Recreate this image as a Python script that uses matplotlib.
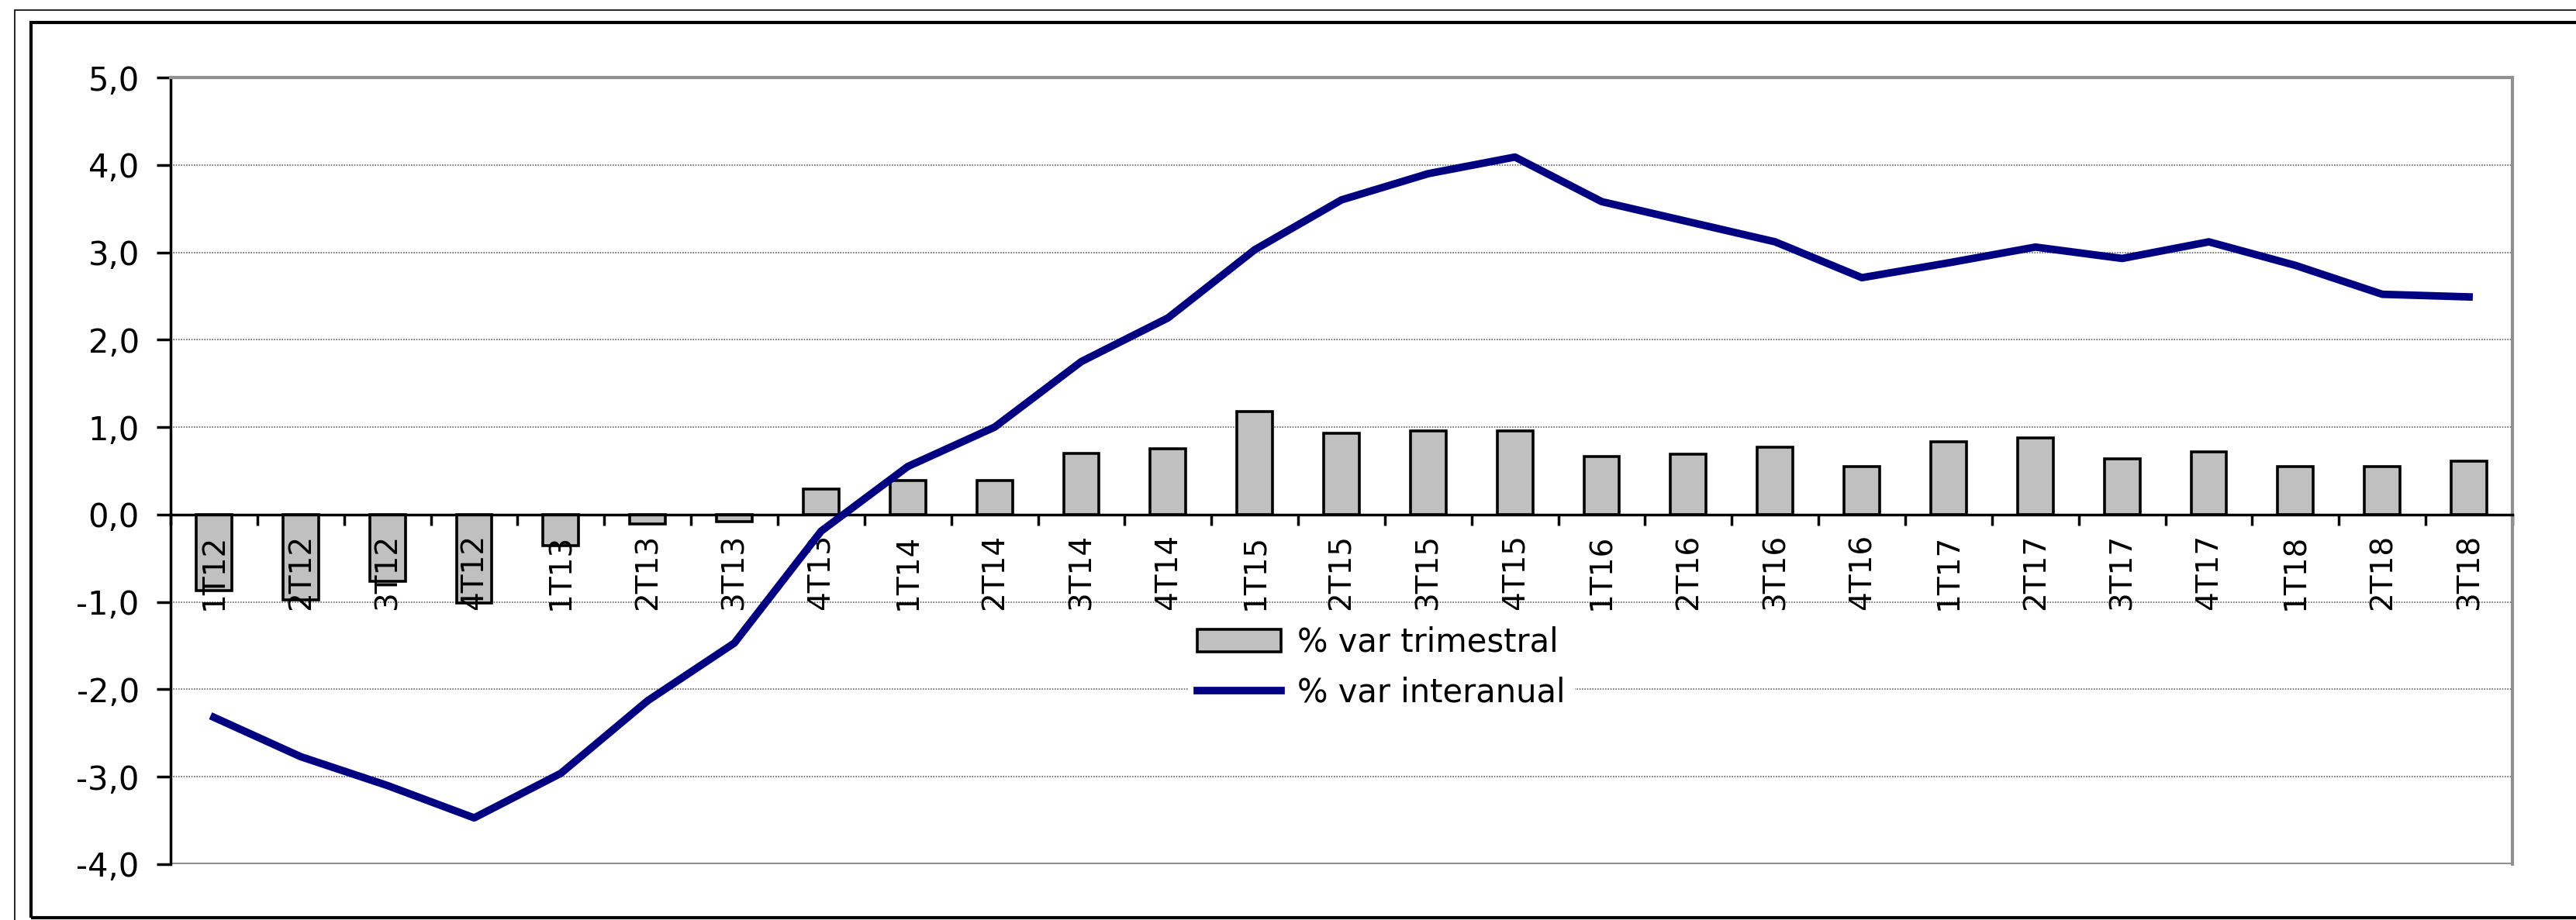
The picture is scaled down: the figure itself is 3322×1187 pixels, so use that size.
import matplotlib
matplotlib.use("Agg")
import matplotlib.pyplot as plt
import numpy as np
from matplotlib.patches import Rectangle
from matplotlib.ticker import FuncFormatter, FixedLocator

quarters = ["1T12", "2T12", "3T12", "4T12", "1T13", "2T13", "3T13", "4T13",
            "1T14", "2T14", "3T14", "4T14", "1T15", "2T15", "3T15", "4T15",
            "1T16", "2T16", "3T16", "4T16", "1T17", "2T17", "3T17", "4T17",
            "1T18", "2T18", "3T18"]

# % var trimestral (bars)
var_trimestral = [-0.87, -0.98, -0.76, -1.01, -0.36, -0.11, -0.08, 0.29,
                  0.39, 0.39, 0.70, 0.75, 1.18, 0.93, 0.96, 0.96,
                  0.66, 0.69, 0.77, 0.55, 0.83, 0.88, 0.64, 0.72,
                  0.55, 0.55, 0.61]

# % var interanual (line)
var_interanual = [-2.32, -2.77, -3.10, -3.47, -2.96, -2.13, -1.47, -0.19,
                  0.55, 1.00, 1.75, 2.25, 3.03, 3.60, 3.90, 4.09,
                  3.58, 3.35, 3.12, 2.71, 2.88, 3.06, 2.93, 3.12,
                  2.85, 2.52, 2.49]

W, H = 3323, 1187
fig = plt.figure(figsize=(W / 100, H / 100), dpi=100)

# double frame around the chart
fig.add_artist(Rectangle((19 / W, -0.1), 1.2, (H - 13) / H + 0.1, transform=fig.transFigure,
                         fill=False, edgecolor="black", linewidth=1.2))
fig.add_artist(Rectangle((40 / W, (H - 1184) / H), 1.2, (1184 - 29) / H, transform=fig.transFigure,
                         fill=False, edgecolor="black", linewidth=3))

ax = fig.add_axes([220 / W, (H - 1115) / H, (3240 - 220) / W, (1115 - 100) / H])

x = np.arange(len(quarters))
bars = ax.bar(x, var_trimestral, width=0.41, color="#c0c0c0", edgecolor="black",
              linewidth=2.6, label="% var trimestral", zorder=1)
line, = ax.plot(x, var_interanual, color="#000080", linewidth=7, label="% var interanual",
                zorder=3)

ax.set_xlim(-0.5, len(quarters) - 0.5)
ax.set_ylim(-4, 5)

# y axis
ax.set_yticks(np.arange(-4, 5.1, 1))
ax.yaxis.set_major_formatter(FuncFormatter(lambda v, p: f"{v:.1f}".replace(".", ",")))
ax.tick_params(axis="y", direction="out", length=13, width=2.5, pad=16, labelsize=30)

# grid
for v in range(-3, 5):
    ax.axhline(v, color="#666666", linewidth=1.2, linestyle=(0, (1, 1)), zorder=0.5)
ax.axhline(-4, color="#909090", linewidth=3, zorder=0.6)

# x axis at zero
ax.spines["bottom"].set_position(("data", 0))
ax.spines["bottom"].set_linewidth(2.5)
ax.spines["left"].set_linewidth(2.5)
ax.spines["top"].set_color("#909090")
ax.spines["top"].set_linewidth(3)
ax.spines["right"].set_color("#909090")
ax.spines["right"].set_linewidth(3)

ax.xaxis.set_major_locator(FixedLocator(np.arange(-0.5, len(quarters), 1)))
ax.set_xticklabels([], minor=False)
ax.set_xticks(x, quarters, minor=True)
ax.tick_params(axis="x", which="major", direction="out", length=10, width=2.5)
ax.tick_params(axis="x", which="minor", length=0, pad=18, labelsize=28, labelrotation=90)

ax.legend([bars, line], ["% var trimestral", "% var interanual"],
          loc="center", bbox_to_anchor=(0.517, 0.25), fontsize=30,
          frameon=True, edgecolor="none", facecolor="white", framealpha=1,
          fancybox=False, handlelength=2.6, handletextpad=0.5, labelspacing=0.55,
          borderpad=0.3)

fig.savefig("out.png", dpi=100)
